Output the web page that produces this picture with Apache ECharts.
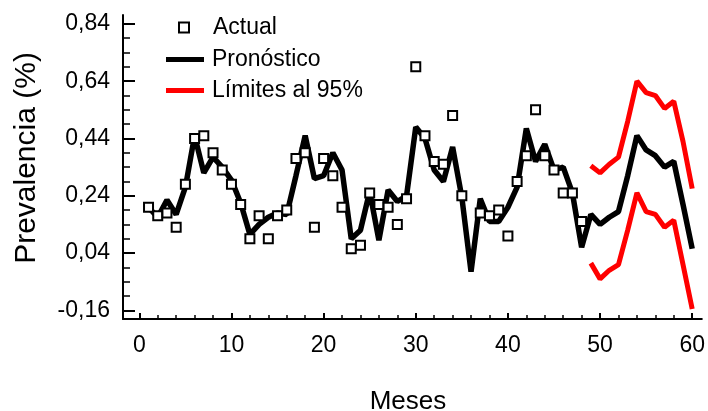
<!DOCTYPE html>
<html>
<head>
<meta charset="utf-8">
<script src="https://cdn.jsdelivr.net/npm/echarts@6/dist/echarts.min.js"></script>
<style>
html,body{margin:0;padding:0;background:#fff;}
#chart{width:708px;height:411px;}
</style>
</head>
<body>
<div id="chart"></div>
<script>
// ---- data ----
var months = [1,2,3,4,5,6,7,8,9,10,11,12,13,14,15,16,17,18,19,20,21,22,23,24,25,26,27,28,29,30,
              31,32,33,34,35,36,37,38,39,40,41,42,43,44,45,46,47,48,49,50,51,52,53,54,55,56,57,58,59,60];
var actual = [0.20,0.17,0.18,0.13,0.28,0.44,0.45,0.39,0.33,0.28,
              0.21,0.09,0.17,0.09,0.17,0.19,0.37,0.39,0.13,0.37,
              0.31,0.20,0.055,0.067,0.25,0.21,0.20,0.14,0.23,0.69,
              0.45,0.36,0.35,0.52,0.24,null,0.18,0.17,0.19,0.10,
              0.29,0.38,0.54,0.38,0.33,0.25,0.25,0.15];
var forecast = [0.20,0.165,0.225,0.175,0.27,0.45,0.32,0.375,0.34,0.295,
                0.215,0.105,0.14,0.165,0.18,0.175,0.31,0.45,0.30,0.31,
                0.39,0.33,0.09,0.12,0.255,0.085,0.26,0.22,0.24,0.48,
                0.44,0.33,0.29,0.41,0.235,-0.025,0.23,0.15,0.15,0.20,
                0.27,0.475,0.36,0.42,0.33,0.34,0.25,0.06,0.175,0.14,
                0.165,0.185,0.31,0.45,0.40,0.38,0.34,0.36,0.21,0.055];
var limitMonths = [49,50,51,52,53,54,55,56,57,58,59,60];
var upper = [0.345,0.32,0.35,0.375,0.50,0.64,0.60,0.59,0.545,0.57,0.43,0.265];
var lower = [0.005,-0.05,-0.02,0.0,0.12,0.25,0.185,0.175,0.13,0.155,0.0,-0.155];
var xTicks = [0,10,20,30,40,50,60];
var xMinorTicks = [2,4,6,8,12,14,16,18,22,24,26,28,32,34,36,38,42,44,46,48,52,54,56,58];
var yTicks = [-0.16,0.04,0.24,0.44,0.64,0.84];
var yMinorTicks = [-0.11,-0.06,-0.01,0.09,0.14,0.19,0.29,0.34,0.39,0.49,0.54,0.59,0.69,0.74,0.79];

var FONT = '"Liberation Sans", Arial, sans-serif';
function pairs(xs, ys){ var out=[]; for(var i=0;i<ys.length;i++){ if(ys[i]!==null){ out.push([xs[i], ys[i]]); } } return out; }

var chart = echarts.init(document.getElementById('chart'), null, {renderer:'canvas'});
var xMin = -1.77, xMax = 61.04, yMin = -0.19, yMax = 0.871;
var option = {
  backgroundColor:'#ffffff',
  animation:false,
  grid:{left:123, top:15, width:585, height:304, containLabel:false},
  xAxis:[{
    type:'value', min:xMin, max:xMax, position:'bottom',
    axisLine:{show:true, onZero:false, lineStyle:{color:'#000', width:2}},
    axisTick:{show:true, inside:true, length:6, customValues:xTicks, lineStyle:{color:'#000', width:2}},
    axisLabel:{show:true, customValues:xTicks, margin:15, color:'#000', fontSize:23, fontFamily:FONT},
    splitLine:{show:false}
  },{
    type:'value', min:xMin, max:xMax, position:'bottom', offset:0,
    axisLine:{show:false, onZero:false},
    axisTick:{show:true, inside:true, length:4, customValues:xMinorTicks, lineStyle:{color:'#000', width:1.5}},
    axisLabel:{show:false},
    splitLine:{show:false}
  }],
  yAxis:[{
    type:'value', min:yMin, max:yMax, position:'left',
    axisLine:{show:true, onZero:false, lineStyle:{color:'#000', width:2}},
    axisTick:{show:true, inside:true, length:12, customValues:yTicks, lineStyle:{color:'#000', width:2}},
    axisLabel:{show:true, customValues:yTicks, margin:13, color:'#000', fontSize:23, fontFamily:FONT,
      formatter:function(v){ return v.toFixed(2).replace('.', ','); }},
    splitLine:{show:false}
  },{
    type:'value', min:yMin, max:yMax, position:'left', offset:0,
    axisLine:{show:false, onZero:false},
    axisTick:{show:true, inside:true, length:7, customValues:yMinorTicks, lineStyle:{color:'#000', width:1.5}},
    axisLabel:{show:false},
    splitLine:{show:false}
  }],
  legend:[{
    data:[{name:'Actual', icon:'rect'}], orient:'vertical', left:173, top:11,
    itemWidth:10, itemHeight:10,
    itemStyle:{color:'#fff', borderColor:'#000', borderWidth:2},
    textStyle:{color:'#000', fontSize:23, fontFamily:FONT, padding:[0,0,0,19]}
  },{
    data:[{name:'Pronóstico', icon:'rect'},{name:'Límites al 95%', icon:'rect'}],
    orient:'vertical', left:161, top:43, itemGap:8,
    itemWidth:38, itemHeight:5,
    textStyle:{color:'#000', fontSize:23, fontFamily:FONT, padding:[0,0,0,3]}
  }],
  graphic:[
    {type:'text', x:27, y:158, rotation:Math.PI/2,
     style:{text:'Prevalencia (%)', font:'30px ' + FONT, fill:'#000', textAlign:'center', textVerticalAlign:'middle'}},
    {type:'text', x:408, y:402,
     style:{text:'Meses', font:'26px ' + FONT, fill:'#000', textAlign:'center', textVerticalAlign:'middle'}}
  ],
  series:[
    {name:'Límites al 95%', type:'line', data:pairs(limitMonths, upper), symbol:'none', smooth:false,
     lineStyle:{color:'#ff0000', width:5}, itemStyle:{color:'#ff0000'}, z:2},
    {name:'Límites al 95%', type:'line', data:pairs(limitMonths, lower), symbol:'none', smooth:false,
     lineStyle:{color:'#ff0000', width:5}, itemStyle:{color:'#ff0000'}, z:2},
    {name:'Pronóstico', type:'line', data:pairs(months, forecast), symbol:'none', smooth:false,
     lineStyle:{color:'#000', width:5.5}, itemStyle:{color:'#000'}, z:3},
    {name:'Actual', type:'scatter', data:pairs(months, actual),
     symbol:'rect', symbolSize:9,
     itemStyle:{color:'#ffffff', borderColor:'#000', borderWidth:2, opacity:1}, z:4}
  ]
};
chart.setOption(option);
</script>
</body>
</html>
